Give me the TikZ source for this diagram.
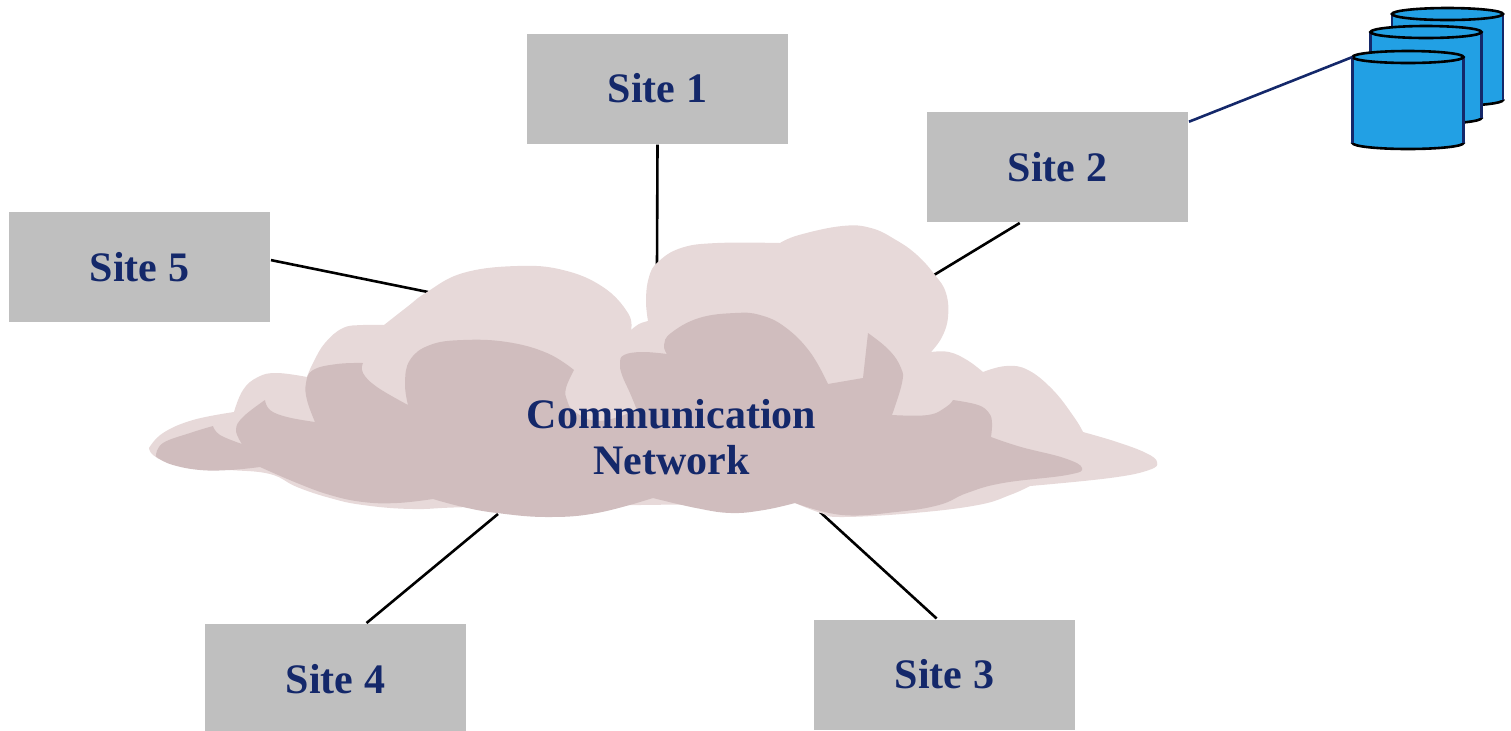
\documentclass[tikz,border=0pt]{standalone}
\usepackage{fontspec}
\setmainfont{Liberation Serif}
\definecolor{sitegray}{HTML}{BFBFBF}
\definecolor{cloudlight}{HTML}{E7D9D9}
\definecolor{clouddark}{HTML}{D0BDBE}
\definecolor{labelnavy}{HTML}{14286A}
\definecolor{diskblue}{HTML}{22A0E4}
\tikzset{
  sitebox/.style={fill=sitegray,minimum width=130.5pt,minimum height=55pt,inner sep=0pt,outer sep=0.5pt,
    text=labelnavy,font=\fontsize{21}{24}\selectfont\bfseries},
  sitelink/.style={line width=1.3pt,black},
  disklink/.style={line width=1.3pt,labelnavy},
  diskbody/.style={fill=diskblue,minimum width=55.5pt,minimum height=43pt,inner sep=0pt,outer sep=0pt},
  diskside/.style={line width=1.3pt,labelnavy},
  diskend/.style={line width=1.3pt,black,fill=diskblue},
  lobe/.style={smooth,tension=0.7}
}
\begin{document}
\begin{tikzpicture}[x=0.5pt,y=-0.5pt]
  \clip (0,0) rectangle (1511,730);
  % sites
  \node[sitebox] (site1) at (657.5,88.5) {Site 1};
  \node[sitebox] (site2) at (1057.5,167) {Site 2};
  \node[sitebox] (site3) at (944.5,674.5) {Site 3};
  \node[sitebox] (site4) at (335.5,679) {Site 4};
  \node[sitebox] (site5) at (139.5,267) {Site 5};

  % where the lines meet the cloud
  \coordinate (cloud1) at (657,266);
  \coordinate (cloud2) at (934,275);
  \coordinate (cloud3) at (820,512);
  \coordinate (cloud4) at (498,514);
  \coordinate (cloud5) at (428,292);
  \draw[sitelink] (site1.south) -- (cloud1);
  \draw[sitelink] (site2.236) -- (cloud2);
  \draw[sitelink] (site3.98) -- (cloud3);
  \draw[sitelink] (site4.61) -- (cloud4);
  \draw[sitelink] (site5.3.5) -- (cloud5);

  % cloud, back layer
  \fill[cloudlight]
    plot[lobe] coordinates {(149,448) (163,433) (193,420) (234,412)}
    -- plot[lobe] coordinates {(234,412) (243,390) (258,377) (277,373) (307,377)}
    -- plot[lobe] coordinates {(307,377) (313,363) (325,343) (343,328) (363,325) (384,325)}
    -- plot[lobe] coordinates {(384,325) (407,307) (427,292) (463,273) (517,266) (563,270) (603,287) (628,313) (631,330)}
    -- plot[lobe] coordinates {(631,330) (639,324) (648,321)}
    -- plot[lobe] coordinates {(648,321) (646,300) (649,277) (658,262) (681,248) (717,243) (780,243)}
    -- plot[lobe] coordinates {(780,243) (799,235) (842,226) (871,228) (896,240) (917,255) (935,275) (946,293) (948,317) (942,337) (931,352)}
    -- plot[lobe] coordinates {(931,352) (949,352) (967,360) (983,372)}
    -- plot[lobe] coordinates {(983,372) (1006,366) (1028,370) (1053,390) (1074,417) (1083,432)}
    -- plot[lobe] coordinates {(1083,432) (1117,442) (1146,453) (1157,462) (1149,470) (1110,478) (1030,486)}
    -- plot[lobe] coordinates {(1030,486) (1010,495) (978,505) (914,513) (842,517) (821,513) (795,503)}
    -- plot[lobe] coordinates {(795,503) (640,505) (473,507) (413,509) (363,505) (330,498) (297,487) (270,474) (230,470) (197,468) (167,462) (153,455) (149,448)}
    -- cycle;

  % cloud, front layer
  \fill[clouddark]
    plot[lobe] coordinates {(156,455) (163,443) (190,433) (213,426)}
    -- plot[lobe] coordinates {(213,426) (220,435) (242,444)}
    -- plot[lobe] coordinates {(242,444) (236,430) (243,417) (265,400)}
    -- plot[lobe] coordinates {(265,400) (270,410) (287,417) (315,422)}
    -- plot[lobe] coordinates {(315,422) (307,400) (306,383) (313,370) (337,364) (363,363)}
    -- plot[lobe] coordinates {(363,363) (363,373) (377,387) (408,405)}
    -- plot[lobe] coordinates {(408,405) (405,383) (410,360) (430,345) (463,340) (507,342) (547,353) (574,370)}
    -- plot[lobe] coordinates {(574,370) (566,388) (567,400) (575,412) (600,421) (637,410)}
    -- plot[lobe] coordinates {(637,410) (630,393) (622,375) (620,363) (624,355) (642,352) (667,354)}
    -- plot[lobe] coordinates {(667,354) (664,345) (671,333) (699,318) (735,313) (760,315) (785,327) (810,352) (828,384)}
    -- (863,378) -- (868,333)
    -- plot[lobe] coordinates {(868,333) (889,350) (901,368) (902,383) (892,415)}
    -- plot[lobe] coordinates {(892,415) (928,415) (946,407) (953,400)}
    -- plot[lobe] coordinates {(953,400) (978,405) (989,413) (992,423) (991,437)}
    -- plot[lobe] coordinates {(991,437) (1021,447) (1064,458) (1082,468) (1067,475) (1003,483) (967,493) (939,505) (896,512) (842,515) (795,503)}
    -- plot[lobe] coordinates {(795,503) (764,510) (731,513) (696,508) (653,498)}
    -- plot[lobe] coordinates {(653,498) (597,513) (547,517) (497,513) (463,507) (433,499)}
    -- plot[lobe] coordinates {(433,499) (397,503) (363,502) (330,495) (297,483) (260,467)}
    -- plot[lobe] coordinates {(260,467) (230,470) (200,470) (173,465) (158,458) (156,455)}
    -- cycle;

  \node[text=labelnavy,font=\fontsize{21}{23.3}\selectfont\bfseries,align=center] (network) at (671.5,437) {Communication\\Network};

  % disks, back to front
  \foreach \name/\cx/\cy in {disk1/1447.5/57, disk2/1426/75, disk3/1408/100} {
    \node[diskbody] (\name) at (\cx,\cy) {};
    \draw[diskend] (\name.south) ellipse (55.5 and 6);
    \fill[diskblue] (\name.north west) rectangle (\name.south east);
    \draw[diskside] (\name.north west) -- (\name.south west) (\name.north east) -- (\name.south east);
    \draw[diskend] (\name.north) ellipse (55.5 and 6);
  }

  \draw[disklink] (site2.19) -- (disk3.north west);
\end{tikzpicture}
\end{document}
